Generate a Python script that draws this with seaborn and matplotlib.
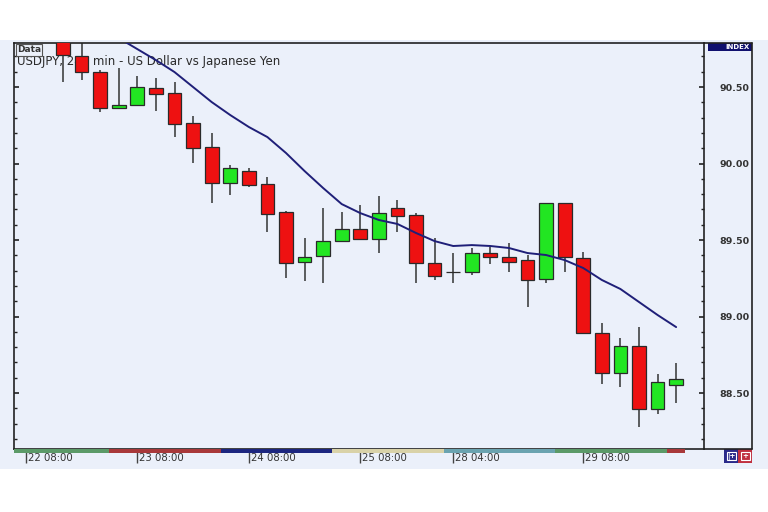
import numpy as np
import pandas as pd
import matplotlib
matplotlib.use("Agg")
import matplotlib.pyplot as plt
import seaborn as sns
from matplotlib.patches import Rectangle
from matplotlib.lines import Line2D
from matplotlib.transforms import ScaledTranslation

# ---------------- data ----------------
opens = [90.860, 90.703, 90.598, 90.363, 90.382, 90.493, 90.461, 90.265, 90.108, 89.873,
         89.951, 89.866, 89.683, 89.356, 89.395, 89.493, 89.572, 89.507, 89.709, 89.663,
         89.350, 89.291, 89.291, 89.415, 89.389, 89.369, 89.245, 89.742, 89.382, 88.892,
         88.631, 88.807, 88.395, 88.552]
closes = [90.709, 90.598, 90.363, 90.382, 90.500, 90.454, 90.258, 90.101, 89.873, 89.971,
          89.859, 89.670, 89.350, 89.389, 89.493, 89.572, 89.507, 89.676, 89.657, 89.350,
          89.265, 89.291, 89.415, 89.389, 89.356, 89.239, 89.742, 89.389, 88.892, 88.631,
          88.807, 88.395, 88.572, 88.591]
highs = [90.950, 90.850, 90.611, 90.624, 90.572, 90.559, 90.533, 90.310, 90.199, 89.990,
         89.971, 89.912, 89.690, 89.513, 89.709, 89.683, 89.729, 89.788, 89.761, 89.676,
         89.513, 89.415, 89.448, 89.454, 89.480, 89.402, 89.742, 89.742, 89.422, 88.958,
         88.859, 88.931, 88.624, 88.696]
lows = [90.533, 90.546, 90.337, 90.363, 90.382, 90.343, 90.173, 90.003, 89.742, 89.794,
        89.846, 89.552, 89.252, 89.232, 89.219, 89.493, 89.507, 89.415, 89.552, 89.219,
        89.239, 89.219, 89.271, 89.343, 89.291, 89.062, 89.219, 89.291, 88.892, 88.559,
        88.539, 88.278, 88.363, 88.435]
ma_values = [91.016, 90.951, 90.886, 90.820, 90.748, 90.676, 90.598, 90.500, 90.402, 90.317,
             90.239, 90.173, 90.069, 89.951, 89.840, 89.735, 89.676, 89.631, 89.605, 89.546,
             89.493, 89.461, 89.467, 89.461, 89.448, 89.415, 89.402, 89.369, 89.317, 89.239,
             89.180, 89.095, 89.010, 88.931]
tick_bars = [-2, 4, 10, 16, 21, 28]
tick_labels = ["22 08:00", "23 08:00", "24 08:00", "25 08:00", "28 04:00", "29 08:00"]
ytick_values = [88.5, 89.0, 89.5, 90.0, 90.5]
day_edges = [-2.64, 2.5, 8.5, 14.5, 20.5, 26.5, 32.5, 33.5]
title_text = "USDJPY, 240 min - US Dollar vs Japanese Yen"

df = pd.DataFrame({"bar": np.arange(len(opens)), "open": opens, "close": closes,
                   "high": highs, "low": lows, "ma": ma_values})

# ---------------- styling ----------------
BG = "#ebf0fa"
sns.set_theme(style="white")
plt.rcParams["font.family"] = ["DejaVu Sans"]

fig = plt.figure(figsize=(7.68, 5.12), dpi=100, facecolor="white")
W, H = 768.0, 512.0
fig.patches.append(Rectangle((0, 1 - 469 / H), 1, 429 / H, transform=fig.transFigure,
                             facecolor=BG, edgecolor="none", zorder=-10))

ax = fig.add_axes([14 / W, 1 - 449 / H, 690 / W, 406 / H])
ax.set_facecolor(BG)

up = df["close"] >= df["open"]
body_colors = np.where(up, "#22e622", "#ee1111")

ax.vlines(df["bar"], df["low"], df["high"], color="#333333", lw=1.1, zorder=2)
ax.bar(df["bar"], df["close"] - df["open"], bottom=df["open"], width=0.74,
       color=body_colors, edgecolor="#2a2a2a", linewidth=0.9, zorder=3)
sns.lineplot(data=df, x="bar", y="ma", ax=ax, color="#1f1f78", lw=1.4, zorder=4)

ax.set_xlim(-2.64, 34.5)
ax.set_ylim(88.134, 90.788)
ax.set_xlabel("")
ax.set_ylabel("")

# title (drawn under the candles)
ax.text(3 / 690, (449 - 62) / 406, title_text, transform=ax.transAxes, fontsize=8.5,
        color="#2a2a2a", va="center", ha="left", zorder=1)

# spines
for s in ax.spines.values():
    s.set_color("#222222")
    s.set_linewidth(1.2)

# y axis
ax.set_yticks(ytick_values)
ax.set_yticklabels([f"{v:.2f}" for v in ytick_values])
ax.yaxis.set_minor_locator(matplotlib.ticker.MultipleLocator(0.1))
ax.tick_params(axis="y", which="both", left=True, right=True, labelleft=False,
               labelright=True, direction="in", color="#222222")
ax.tick_params(axis="y", which="major", length=3.5, width=1.2, pad=33, labelsize=6.8,
               labelcolor="#333333")
ax.tick_params(axis="y", which="minor", length=2.2, width=1.0)
for lab in ax.get_yticklabels():
    lab.set_horizontalalignment("right")
    lab.set_fontweight("bold")

# x axis
ax.set_xticks(tick_bars)
ax.set_xticklabels(tick_labels)
ax.tick_params(axis="x", which="major", bottom=True, direction="out", length=10, width=1.0,
               color="#444444", pad=-7, labelsize=7.3, labelcolor="#333333")
for lab in ax.get_xticklabels():
    lab.set_horizontalalignment("left")
    lab.set_transform(lab.get_transform() + ScaledTranslation(2 / 100, 0, fig.dpi_scale_trans))

# coloured day bar along the bottom
seg_colors = ["#5b9a68", "#a8383a", "#1c2680", "#d9d2a8", "#6aa3b0", "#5b9a68", "#a8383a"]
for (x0, x1), c in zip(zip(day_edges[:-1], day_edges[1:]), seg_colors):
    ax.add_patch(Rectangle((x0, -3.5 / 406), x1 - x0, 3.5 / 406,
                           transform=ax.get_xaxis_transform(), facecolor=c,
                           edgecolor="none", clip_on=False, zorder=5))

# "Data" tab
fig.text(17 / W, 1 - 50 / H, "Data", fontsize=6.5, fontweight="bold", color="#333333",
         va="center", ha="left",
         bbox=dict(boxstyle="square,pad=0.15", facecolor=BG, edgecolor="#555555", lw=0.8))

# right-hand panel frame
fig.add_artist(Line2D([704 / W, 752 / W], [1 - 43 / H, 1 - 43 / H], color="#222222", lw=1.2))
fig.add_artist(Line2D([752 / W, 752 / W], [1 - 43 / H, 1 - 449 / H], color="#222222", lw=1.2))
fig.add_artist(Line2D([704 / W, 752 / W], [1 - 449 / H, 1 - 449 / H], color="#222222", lw=1.2))

# INDEX label
fig.patches.append(Rectangle((708 / W, 1 - 51 / H), 44 / W, 8 / H, transform=fig.transFigure,
                             facecolor="#10106e", edgecolor="none"))
fig.text(750 / W, 1 - 47 / H, "INDEX", fontsize=5, fontweight="bold", color="white",
         va="center", ha="right")

# small buttons bottom right
for x0, c, g in [(724, "#2a2a8a", "|+"), (738, "#c03040", "+")]:
    fig.patches.append(Rectangle((x0 / W, 1 - 463 / H), 14 / W, 14 / H,
                                 transform=fig.transFigure, facecolor=c, edgecolor="none"))
    fig.patches.append(Rectangle(((x0 + 2.5) / W, 1 - 460 / H), 9 / W, 8 / H,
                                 transform=fig.transFigure, facecolor="none",
                                 edgecolor="white", lw=0.8))
    fig.text((x0 + 7) / W, 1 - 456 / H, g, fontsize=5, fontweight="bold", color="white",
             va="center", ha="center")

fig.savefig("out.png", dpi=100, facecolor="white")
